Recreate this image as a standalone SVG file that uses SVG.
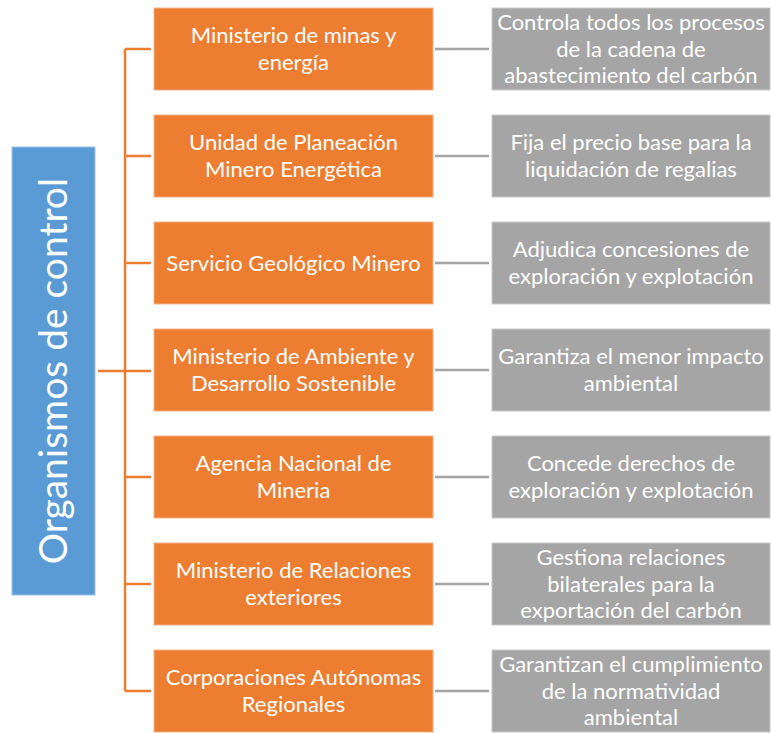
<svg xmlns="http://www.w3.org/2000/svg" width="771" height="733" viewBox="0 0 771 733">
<style>
.org{fill:#ED7D31;stroke:#F4B183;stroke-width:1}
.gry{fill:#A5A5A5;stroke:#C9C9C9;stroke-width:1}
.t{font-family:Lato,"Open Sans",sans-serif;font-size:22px;fill:#fff;text-anchor:middle}
.ol{stroke:#ED7D31;stroke-width:2.5;fill:none}
.gl{stroke:#A5A5A5;stroke-width:2.5;fill:none}
</style>
<rect width="771" height="733" fill="#fff"/>
<g id="connectors">
<path class="ol" d="M98 371H151M125 49V691M125 49H151M125 156H151M125 263H151M125 477H151M125 584H151M125 691H151"/>
<path class="gl" d="M435 49H489M435 156H489M435 263H489M435 370H489M435 477H489M435 584H489M435 691H489"/>
</g>
<g id="root">
<rect x="12" y="147" width="83" height="448" fill="#5B9BD5" stroke="#9DC3E6" stroke-width="1"/>
<text transform="translate(67 371) rotate(-90)" style="font-family:Lato,'Open Sans',sans-serif;font-size:39px;fill:#fff;text-anchor:middle">Organismos de control</text>
</g>
<g id="n1"><rect class="org" x="154" y="8" width="279" height="82"/><text class="t" x="293.5"><tspan x="293.5" y="43">Ministerio de minas y</tspan><tspan x="293.5" y="69.5">energía</tspan></text></g>
<g id="d1"><rect class="gry" x="492" y="8" width="278" height="82"/><text class="t"><tspan x="631" y="30">Controla todos los procesos</tspan><tspan x="631" y="56.5">de la cadena de</tspan><tspan x="631" y="83">abastecimiento del carbón</tspan></text></g>
<g id="n2"><rect class="org" x="154" y="115" width="279" height="82"/><text class="t"><tspan x="293.5" y="150">Unidad de Planeación</tspan><tspan x="293.5" y="176.5">Minero Energética</tspan></text></g>
<g id="d2"><rect class="gry" x="492" y="115" width="278" height="82"/><text class="t"><tspan x="631" y="150">Fija el precio base para la</tspan><tspan x="631" y="176.5">liquidación de regalias</tspan></text></g>
<g id="n3"><rect class="org" x="154" y="222" width="279" height="82"/><text class="t" x="293.5" y="270.5">Servicio Geológico Minero</text></g>
<g id="d3"><rect class="gry" x="492" y="222" width="278" height="82"/><text class="t"><tspan x="631" y="257">Adjudica concesiones de</tspan><tspan x="631" y="283.5">exploración y explotación</tspan></text></g>
<g id="n4"><rect class="org" x="154" y="329" width="279" height="82"/><text class="t"><tspan x="293.5" y="364">Ministerio de Ambiente y</tspan><tspan x="293.5" y="390.5">Desarrollo Sostenible</tspan></text></g>
<g id="d4"><rect class="gry" x="492" y="329" width="278" height="82"/><text class="t"><tspan x="631" y="364">Garantiza el menor impacto</tspan><tspan x="631" y="390.5">ambiental</tspan></text></g>
<g id="n5"><rect class="org" x="154" y="436" width="279" height="82"/><text class="t"><tspan x="293.5" y="471">Agencia Nacional de</tspan><tspan x="293.5" y="497.5">Mineria</tspan></text></g>
<g id="d5"><rect class="gry" x="492" y="436" width="278" height="82"/><text class="t"><tspan x="631" y="471">Concede derechos de</tspan><tspan x="631" y="497.5">exploración y explotación</tspan></text></g>
<g id="n6"><rect class="org" x="154" y="543" width="279" height="82"/><text class="t"><tspan x="293.5" y="578">Ministerio de Relaciones</tspan><tspan x="293.5" y="604.5">exteriores</tspan></text></g>
<g id="d6"><rect class="gry" x="492" y="543" width="278" height="82"/><text class="t"><tspan x="631" y="565">Gestiona relaciones</tspan><tspan x="631" y="591.5">bilaterales para la</tspan><tspan x="631" y="618">exportación del carbón</tspan></text></g>
<g id="n7"><rect class="org" x="154" y="650" width="279" height="82"/><text class="t"><tspan x="293.5" y="685">Corporaciones Autónomas</tspan><tspan x="293.5" y="711.5">Regionales</tspan></text></g>
<g id="d7"><rect class="gry" x="492" y="650" width="278" height="82"/><text class="t"><tspan x="631" y="672">Garantizan el cumplimiento</tspan><tspan x="631" y="698.5">de la normatividad</tspan><tspan x="631" y="725">ambiental</tspan></text></g>
</svg>
